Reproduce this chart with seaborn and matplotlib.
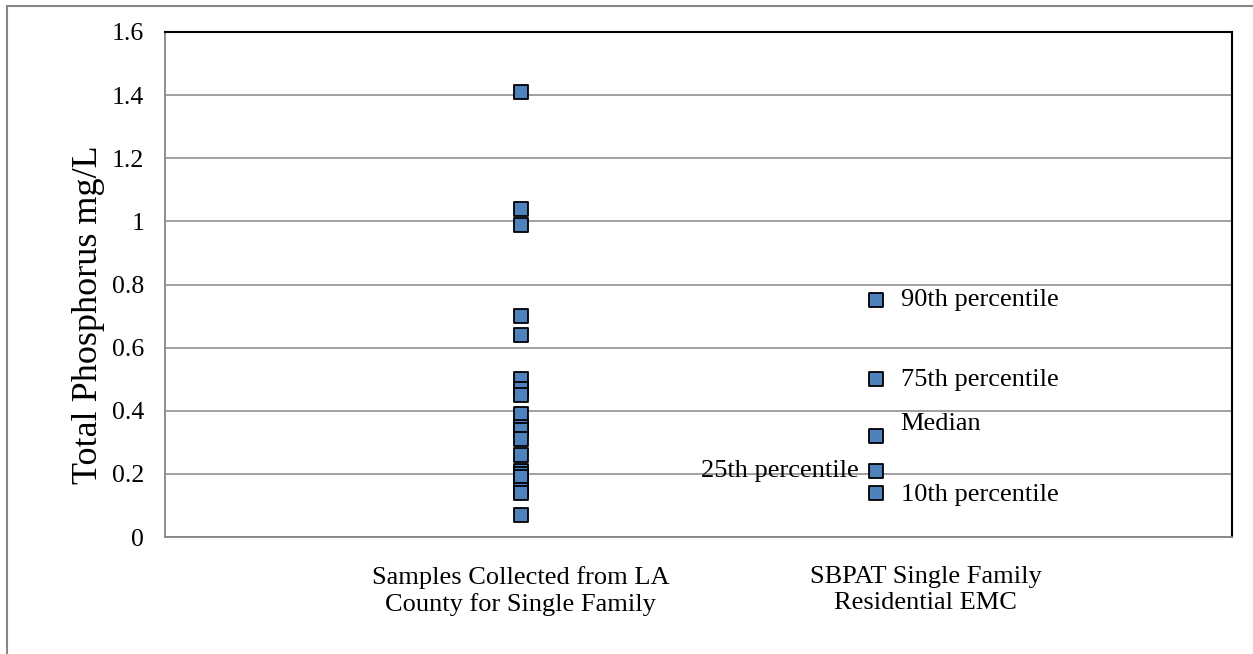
import pandas as pd
import seaborn as sns
import matplotlib.pyplot as plt
from matplotlib.lines import Line2D

# data
la_samples = [1.41, 1.04, 0.99, 0.70, 0.64, 0.50, 0.47, 0.45, 0.39, 0.35,
              0.34, 0.31, 0.26, 0.21, 0.20, 0.19, 0.15, 0.14, 0.07]
sbpat_values = [0.75, 0.50, 0.32, 0.21, 0.14]
sbpat_labels = ["90th percentile", "75th percentile", "Median",
                "25th percentile", "10th percentile"]
groups = ["Samples Collected from LA\nCounty for Single Family",
          "SBPAT Single Family\nResidential EMC"]

df = pd.DataFrame({
    "group": [groups[0]] * len(la_samples) + [groups[1]] * len(sbpat_values),
    "tp": la_samples + sbpat_values,
})

sns.set_style("white")
plt.rcParams["font.family"] = ["Liberation Serif", "DejaVu Serif"]
plt.rcParams["text.color"] = "black"
plt.rcParams["ytick.labelcolor"] = "black"
plt.rcParams["axes.labelcolor"] = "black"

fig = plt.figure(figsize=(12.53, 6.54), dpi=100)
ax = fig.add_axes([165 / 1253, 117 / 654, 1067 / 1253, 505 / 654])

sns.stripplot(data=df, x="group", y="tp", order=groups, jitter=False,
              marker="s", size=10.5, color="#4F81BD", edgecolor="black",
              linewidth=1.3, ax=ax, zorder=3)

ax.set_xlim(-1, 2)
ax.set_ylim(0, 1.6)
ax.set_yticks([0, 0.2, 0.4, 0.6, 0.8, 1, 1.2, 1.4, 1.6])
ax.set_yticklabels(["0", "0.2", "0.4", "0.6", "0.8", "1", "1.2", "1.4", "1.6"])
ax.tick_params(axis="y", labelsize=18.5, direction="out", length=5,
               width=1.1, color="#868686", pad=10, labelcolor="black")
ax.set_xticks([])
ax.set_xlabel("")
ax.set_ylabel("Total Phosphorus mg/L", fontsize=26, color="black")
ax.yaxis.set_label_coords(-0.056, 0.44)

ax.grid(axis="y", color="#868686", linewidth=1.1)
ax.set_axisbelow(True)
for s in ["left", "bottom"]:
    ax.spines[s].set_color("#868686")
    ax.spines[s].set_linewidth(1.3)
for s in ["top", "right"]:
    ax.spines[s].set_color("black")
    ax.spines[s].set_linewidth(1.5)

# category labels under the axis
ax.text(0, -0.058, groups[0], transform=ax.get_xaxis_transform(),
        ha="center", va="top", fontsize=19, linespacing=1.2, color="black")
ax.text(1.138, -0.058, groups[1], transform=ax.get_xaxis_transform(),
        ha="center", va="top", fontsize=19, linespacing=1.2, color="black")

# percentile labels next to the SBPAT points
offsets = [(0.068, 0), (0.068, -0.003), (0.068, 0.038), (-0.05, 0), (0.068, -0.007)]
for val, lab, (dx, dy) in zip(sbpat_values, sbpat_labels, offsets):
    ax.text(1 + dx, val + dy, lab, fontsize=19, va="center", color="black",
            ha="right" if dx < 0 else "left")

# outer chart border (top and left visible)
fig.add_artist(Line2D([7 / 1253, 7 / 1253], [0, 1 - 6 / 654],
                      transform=fig.transFigure, color="#868686", lw=1.5))
fig.add_artist(Line2D([7 / 1253, 1], [1 - 6 / 654, 1 - 6 / 654],
                      transform=fig.transFigure, color="#868686", lw=1.5))

fig.savefig("out.png", dpi=100)
